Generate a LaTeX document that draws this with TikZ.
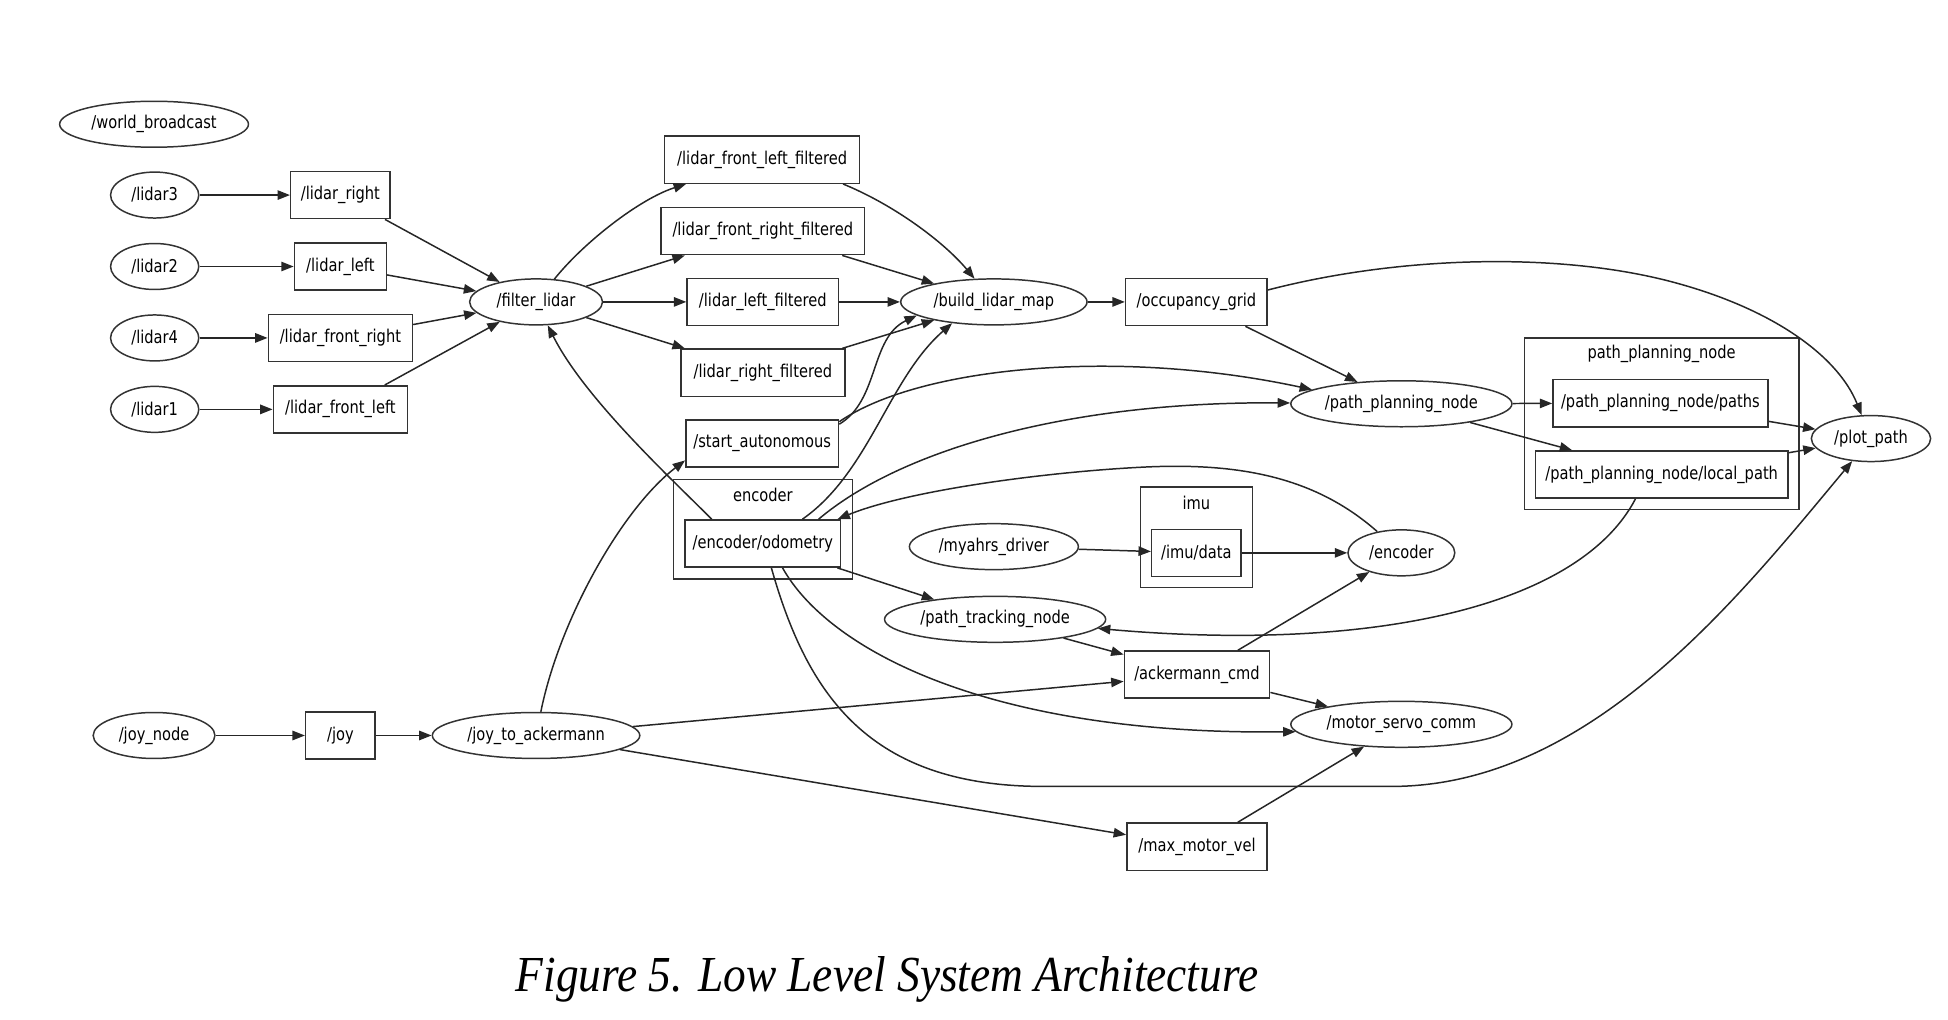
\documentclass[tikz,border=0pt]{standalone}
\usepackage{fontspec}
\setmainfont{DejaVu Sans}[FakeStretch=0.83]
\newfontfamily\capfont{Liberation Serif}[FakeStretch=0.9]
\usetikzlibrary{arrows.meta,shapes.geometric,calc}
\newcommand\ndfont{\fontsize{7.1}{8.5}\selectfont}
\tikzset{
 bx/.style={draw=black!80, line width=0.6pt, rectangle, minimum height=19pt, inner sep=0pt, font=\ndfont},
 el/.style={draw=black!80, line width=0.6pt, ellipse, minimum height=18.5pt, inner sep=0pt, font=\ndfont},
 cl/.style={draw=black!80, line width=0.6pt, rectangle, inner sep=0pt},
 lbl/.style={font=\ndfont, inner sep=0pt},
 e/.style={draw=black!85, line width=0.6pt, -{Triangle[length=5pt,width=3.8pt]}},
}
\begin{document}
\begin{tikzpicture}[x=0.5pt,y=-0.5pt]
\useasboundingbox (0,0) rectangle (1568,821);
% clusters
\node[cl, minimum width=72pt, minimum height=40pt] (enccl) at (614,426) {};
\node[lbl] (enclbl) at (614,398) {encoder};
\node[cl, minimum width=45pt, minimum height=40.5pt] (imucl) at (963,432.5) {};
\node[lbl] (imulbl) at (963,405) {imu};
\node[cl, minimum width=110.5pt, minimum height=69pt] (ppncl) at (1337.5,341) {};
\node[lbl] (ppnlbl) at (1337.5,285) {path\_planning\_node};
% nodes
\node[el, minimum width=76pt] (wb) at (124,100) {/world\_broadcast};
\node[el, minimum width=35.5pt] (l3) at (124.5,157) {/lidar3};
\node[el, minimum width=35.5pt] (l2) at (124.5,214.5) {/lidar2};
\node[el, minimum width=35.5pt] (l4) at (124.5,272) {/lidar4};
\node[el, minimum width=35.5pt] (l1) at (124.5,329.5) {/lidar1};
\node[bx, minimum width=40pt] (lr) at (274,157) {/lidar\_right};
\node[bx, minimum width=37pt] (ll) at (274,214.5) {/lidar\_left};
\node[bx, minimum width=58pt] (lfr) at (274,272) {/lidar\_front\_right};
\node[bx, minimum width=54pt] (lfl) at (274,329.5) {/lidar\_front\_left};
\node[el, minimum width=53.5pt] (fl) at (431.5,243) {/filter\_lidar};
\node[bx, minimum width=78.5pt] (lflf) at (613.5,128.5) {/lidar\_front\_left\_filtered};
\node[bx, minimum width=82pt] (lfrf) at (614,186) {/lidar\_front\_right\_filtered};
\node[bx, minimum width=61pt] (llf) at (614,243) {/lidar\_left\_filtered};
\node[bx, minimum width=66pt] (lrf) at (614,300) {/lidar\_right\_filtered};
\node[bx, minimum width=61.5pt] (sa) at (613.5,357) {/start\_autonomous};
\node[bx, minimum width=62.5pt] (odom) at (614,437.5) {/encoder/odometry};
\node[el, minimum width=75pt] (blm) at (800,243) {/build\_lidar\_map};
\node[bx, minimum width=57pt] (og) at (963,243) {/occupancy\_grid};
\node[el, minimum width=89pt] (ppn) at (1128,325) {/path\_planning\_node};
\node[bx, minimum width=86.5pt] (paths) at (1336.5,324.5) {/path\_planning\_node/paths};
\node[bx, minimum width=101.5pt] (lp) at (1337.5,382) {/path\_planning\_node/local\_path};
\node[el, minimum width=48pt] (pp) at (1506,353) {/plot\_path};
\node[el, minimum width=68pt] (my) at (800,440) {/myahrs\_driver};
\node[bx, minimum width=36pt] (imud) at (963,445) {/imu/data};
\node[el, minimum width=43pt] (enc) at (1128,445) {/encoder};
\node[el, minimum width=89pt] (ptn) at (801,498.5) {/path\_tracking\_node};
\node[bx, minimum width=58.5pt] (ack) at (963.5,543) {/ackermann\_cmd};
\node[el, minimum width=89pt] (msc) at (1128,583) {/motor\_servo\_comm};
\node[bx, minimum width=56.5pt] (mmv) at (963.5,681.5) {/max\_motor\_vel};
\node[el, minimum width=49pt] (jn) at (124,592) {/joy\_node};
\node[bx, minimum width=28pt] (joy) at (274,592) {/joy};
\node[el, minimum width=83.5pt] (jta) at (431.5,592) {/joy\_to\_ackermann};
% caption
\node[font=\capfont\itshape\fontsize{20.3}{23}\selectfont, anchor=base, inner sep=0pt] (cap) at (714,798) {Figure 5. Low Level System Architecture};
% edges
\draw[e] (l3) -- (lr);
\draw[e] (l2) -- (ll);
\draw[e] (l4) -- (lfr);
\draw[e] (l1) -- (lfl);
\draw[e] (lr) -- (fl);
\draw[e] (ll) -- (fl);
\draw[e] (lfr) -- (fl);
\draw[e] (lfl) -- (fl);
\draw[e] (fl) .. controls (470,195) and (515,160) .. (lflf);
\draw[e] (fl) -- (lfrf);
\draw[e] (fl) -- (llf);
\draw[e] (fl) -- (lrf);
\draw[e] ($(odom.north west)+(22,0)$) .. controls (540,385) and (470,320) .. (fl);
\draw[e] ($(lflf.south east)+(-14,0)$) .. controls (720,165) and (760,195) .. (blm);
\draw[e] (lfrf) -- (blm);
\draw[e] (llf) -- (blm);
\draw[e] (lrf) -- (blm);
\draw[e] ($(sa.north east)+(0,4)$) .. controls (708,322) and (700,272) .. (blm.190);
\draw[e] ($(odom.north west)+(95,0)$) .. controls (700,380) and (715,305) .. (blm.207);
\draw[e] ($(sa.north east)+(0,2)$) .. controls (740,295) and (900,280) .. (ppn.171);
\draw[e] ($(odom.north west)+(108,0)$) .. controls (725,362) and (860,323) .. (ppn);
\draw[e] (blm) -- (og);
\draw[e] (og) -- (ppn);
\draw[e] ($(og.north east)+(0,10)$) .. controls (1130,205) and (1260,203) .. (1350,228) .. controls (1430,250) and (1480,288) .. (pp);
\draw[e] (ppn) -- (paths);
\draw[e] (ppn) -- (lp);
\draw[e] (paths) -- (pp);
\draw[e] (lp) -- (pp);
\draw[e] ($(lp.south west)+(81,0)$) .. controls (1270,490) and (1100,525) .. (ptn);
\draw[e] (enc) .. controls (1060,385) and (1000,372) .. (920,376) .. controls (840,380) and (730,395) .. ($(odom.north east)+(-3,0)$);
\draw[e] (my) -- (imud);
\draw[e] (imud) -- (enc);
\draw[e] (odom) -- (ptn);
\draw[e] ($(odom.south west)+(79,0)$) .. controls (668,525) and (800,592) .. (msc.184);
\draw[e] ($(odom.south west)+(70,0)$) .. controls (650,560) and (700,633) .. (840,633) -- (1120,633) .. controls (1280,633) and (1400,480) .. (pp);
\draw[e] (ptn) -- (ack);
\draw[e] (ack) -- (enc);
\draw[e] (ack) -- (msc);
\draw[e] (jta) -- (ack);
\draw[e] (jta) -- (mmv);
\draw[e] (jta) .. controls (450,500) and (500,410) .. ($(sa.south west)+(0,-6)$);
\draw[e] (mmv) -- (msc);
\draw[e] (jn) -- (joy);
\draw[e] (joy) -- (jta);
\end{tikzpicture}
\end{document}
